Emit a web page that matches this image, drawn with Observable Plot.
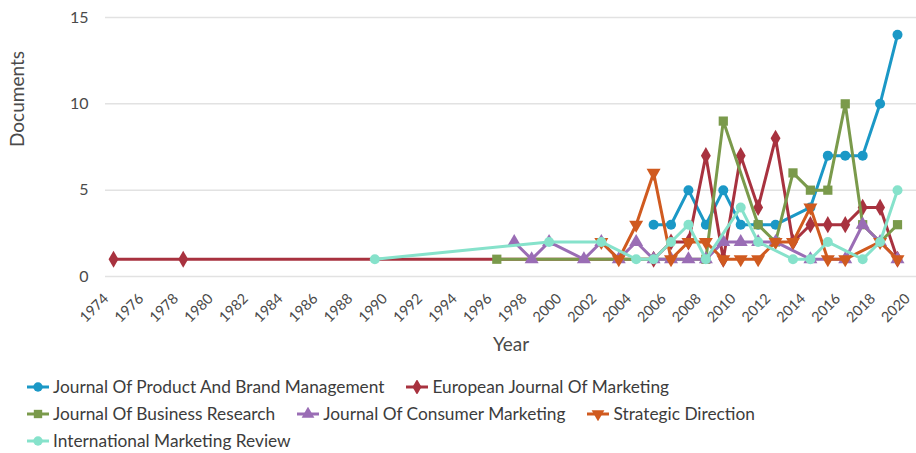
<!DOCTYPE html>
<html>
<head>
<meta charset="utf-8">
<script src="https://cdn.jsdelivr.net/npm/d3@7"></script>
<script src="https://cdn.jsdelivr.net/npm/@observablehq/plot@0.6"></script>
<style>
  html, body { margin: 0; padding: 0; background: #fff; }
  body { font-family: Lato, "Open Sans", sans-serif; color: #444; }
  #chart svg { display: block; }
  #legend { display: flex; flex-wrap: wrap; width: 820px; padding-left: 27px; column-gap: 22px; margin-top: 1px; }
  .item { display: flex; align-items: center; height: 27px; font-size: 17.3px; color: #3c3c3c; white-space: nowrap; }
  .item svg { margin-right: 4px; }
</style>
</head>
<body>
<div id="chart"></div>
<div id="legend"></div>
<script>
// ---- Data ----
const seriesNames = [
  "Journal Of Product And Brand Management",
  "European Journal Of Marketing",
  "Journal Of Business Research",
  "Journal Of Consumer Marketing",
  "Strategic Direction",
  "International Marketing Review"
];
const seriesColors = ["#1b98c6", "#a8323f", "#7a9a4b", "#9a6db5", "#d05a1f", "#86e2cb"];
const seriesSymbols = ["circle", "diamond", "square", "triangle", "triangle", "circle"];
const seriesRotate = [0, 0, 0, 0, 180, 0];

const yearsJPBM = [2005, 2006, 2007, 2008, 2009, 2010, 2011, 2012, 2014, 2015, 2016, 2017, 2018, 2019];
const docsJPBM  = [3, 3, 5, 3, 5, 3, 3, 3, 4, 7, 7, 7, 10, 14];

const yearsEJM = [1974, 1978, 2005, 2006, 2007, 2008, 2009, 2010, 2011, 2012, 2013, 2014, 2015, 2016, 2017, 2018, 2019];
const docsEJM  = [1, 1, 1, 2, 2, 7, 1, 7, 4, 8, 2, 3, 3, 3, 4, 4, 1];

const yearsJBR = [1996, 2008, 2009, 2011, 2012, 2013, 2014, 2015, 2016, 2017, 2018, 2019];
const docsJBR  = [1, 1, 9, 3, 2, 6, 5, 5, 10, 3, 2, 3];

const yearsJCM = [1997, 1998, 1999, 2001, 2002, 2003, 2004, 2005, 2006, 2007, 2008, 2009, 2010, 2011, 2012, 2014, 2016, 2017, 2018, 2019];
const docsJCM  = [2, 1, 2, 1, 2, 1, 2, 1, 1, 1, 1, 2, 2, 2, 2, 1, 1, 3, 2, 1];

const yearsSD = [2002, 2003, 2004, 2005, 2006, 2007, 2008, 2009, 2010, 2011, 2012, 2013, 2014, 2015, 2016, 2018, 2019];
const docsSD  = [2, 1, 3, 6, 1, 2, 2, 1, 1, 1, 2, 2, 4, 1, 1, 2, 1];

const yearsIMR = [1989, 1999, 2002, 2004, 2005, 2006, 2007, 2008, 2010, 2011, 2013, 2014, 2015, 2017, 2018, 2019];
const docsIMR  = [1, 2, 2, 1, 1, 2, 3, 1, 4, 2, 1, 1, 2, 1, 2, 5];

const xTicks = d3.range(1974, 2021, 2);
const yTicks = [0, 5, 10, 15];
const xLabel = "Year";
const yLabel = "Documents";

// ---- Build tables ----
const seriesData = [
  [yearsJPBM, docsJPBM], [yearsEJM, docsEJM], [yearsJBR, docsJBR],
  [yearsJCM, docsJCM], [yearsSD, docsSD], [yearsIMR, docsIMR]
].map(([ys, vs], i) => ys.map((year, j) => ({series: seriesNames[i], year, value: vs[j]})));

const marks = [
  Plot.gridY(yTicks, {stroke: "#e2e2e2", strokeOpacity: 1, strokeWidth: 1.5}),
  Plot.axisY(yTicks, {tickSize: 0, tickPadding: 17, fontSize: 16, color: "#4a4a4a", label: null}),
  Plot.text(xTicks, {x: d => d, text: d => String(d), frameAnchor: "bottom", rotate: -45, textAnchor: "end",
    dx: -4, dy: 23, fontSize: 14.5, fill: "#4a4a4a"}),
  Plot.text([yLabel], {frameAnchor: "left", dx: -88, rotate: -90, fontSize: 19, fill: "#4a4a4a"}),
  Plot.text([xLabel], {frameAnchor: "bottom", dy: 74, fontSize: 19, fill: "#4a4a4a"})
];
seriesData.forEach((d, i) => {
  marks.push(Plot.line(d, {x: "year", y: "value", stroke: seriesColors[i], strokeWidth: 3}));
  marks.push(Plot.dot(d, {x: "year", y: "value", symbol: seriesSymbols[i], rotate: seriesRotate[i],
    r: seriesSymbols[i] === "circle" ? 5 : 5.2, fill: seriesColors[i], stroke: "none"}));
});

const chart = Plot.plot({
  width: 916,
  height: 372,
  marginLeft: 105,
  marginRight: 0,
  marginTop: 17,
  marginBottom: 96,
  style: {fontFamily: "Lato, 'Open Sans', sans-serif", background: "#fff"},
  x: {domain: [1973.54, 2020.09], axis: null},
  y: {domain: [0, 15], axis: null},
  marks
});
document.getElementById("chart").appendChild(chart);

// ---- Legend ----
const legend = document.getElementById("legend");
seriesNames.forEach((name, i) => {
  const item = document.createElement("div");
  item.className = "item";
  const ns = "http://www.w3.org/2000/svg";
  const svg = document.createElementNS(ns, "svg");
  svg.setAttribute("width", 22); svg.setAttribute("height", 14);
  const line = document.createElementNS(ns, "line");
  line.setAttribute("x1", 0); line.setAttribute("x2", 22); line.setAttribute("y1", 7); line.setAttribute("y2", 7);
  line.setAttribute("stroke", seriesColors[i]); line.setAttribute("stroke-width", 3);
  svg.appendChild(line);
  const sym = document.createElementNS(ns, "path");
  const symType = {circle: d3.symbolCircle, diamond: d3.symbolDiamond, square: d3.symbolSquare, triangle: d3.symbolTriangle}[seriesSymbols[i]];
  sym.setAttribute("d", d3.symbol(symType, 70)());
  sym.setAttribute("transform", `translate(11,7) rotate(${seriesRotate[i]})`);
  sym.setAttribute("fill", seriesColors[i]);
  svg.appendChild(sym);
  item.appendChild(svg);
  const span = document.createElement("span");
  span.textContent = name;
  item.appendChild(span);
  legend.appendChild(item);
});
</script>
</body>
</html>
